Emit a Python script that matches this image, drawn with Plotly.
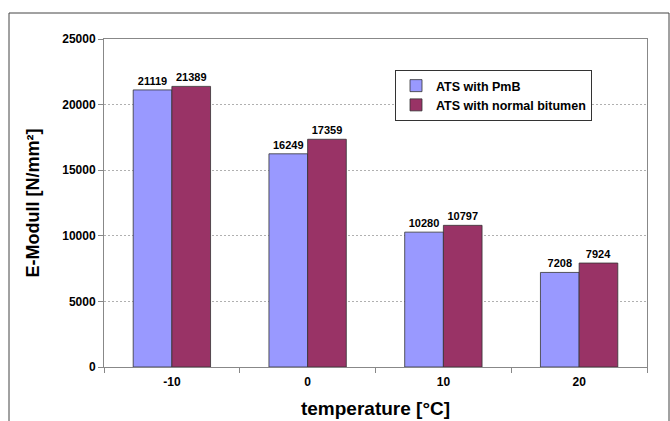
import plotly.graph_objects as go

categories = ["-10", "0", "10", "20"]
pmb_values = [21119, 16249, 10280, 7208]
normal_values = [21389, 17359, 10797, 7924]
series_names = ["ATS with PmB", "ATS with normal bitumen"]

W, H = 670, 421
L, R, T, B = 104, 23, 39, 54
pw, ph = W - L - R, H - T - B

def px(x):
    return (x - L) / pw

def py(y):
    return (H - B - y) / ph

font = "Liberation Sans, Arial, sans-serif"

fig = go.Figure()
for name, vals, color in [(series_names[0], pmb_values, "#9999FF"),
                          (series_names[1], normal_values, "#993366")]:
    fig.add_trace(go.Bar(
        x=categories, y=vals, name=name,
        marker=dict(color=color, line=dict(color="#333333", width=0.8)),
        text=[str(v) for v in vals], textposition="outside",
        textfont=dict(family=font, size=11, color="black", weight="bold"),
        cliponaxis=False,
    ))

fig.update_layout(
    width=W, height=H,
    margin=dict(l=L, r=R, t=T, b=B),
    paper_bgcolor="white", plot_bgcolor="white",
    barmode="group", bargap=0.43, bargroupgap=0,
    font=dict(family=font, color="black"),
    showlegend=True,
    legend=dict(
        x=px(395), y=py(70), xanchor="left", yanchor="top",
        bgcolor="white", bordercolor="#333333", borderwidth=1,
        font=dict(family=font, size=12.5, color="black", weight="bold"),
        itemwidth=30, tracegroupgap=0,
    ),
    xaxis=dict(
        type="category", automargin=False,
        showline=True, linecolor="#888888", linewidth=1, mirror=True,
        ticks="outside", ticklen=5, tickcolor="#888888", tickson="boundaries",
        ticklabelstandoff=4,
        tickfont=dict(family=font, size=12, weight="bold"),
        title=dict(text="temperature [°C]", font=dict(family=font, size=19, weight="bold"), standoff=13),
    ),
    yaxis=dict(
        range=[0, 25000], dtick=5000, tickformat="d", automargin=False,
        showline=True, linecolor="#888888", linewidth=1, mirror=True,
        ticks="outside", ticklen=5, tickcolor="#888888",
        showgrid=True, gridcolor="#b0b0b0", griddash="2px,2px", gridwidth=0.7,
        zeroline=False,
        tickfont=dict(family=font, size=12, weight="bold"),
        title=dict(text="E-Modull [N/mm²]", font=dict(family=font, size=18, weight="bold"), standoff=17),
    ),
    shapes=[dict(
        type="rect", xref="paper", yref="paper",
        x0=px(9), x1=px(669), y0=py(430), y1=py(13),
        line=dict(color="#444444", width=1), fillcolor="rgba(0,0,0,0)", layer="below",
    )],
)

fig.write_html("out.html")
